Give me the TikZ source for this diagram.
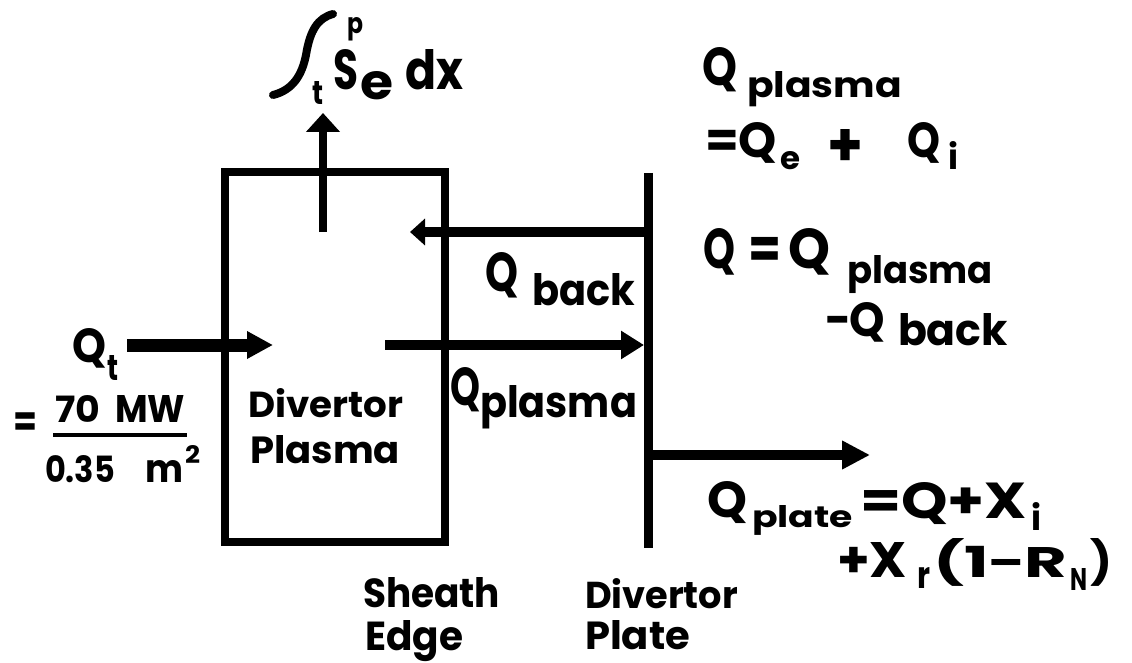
\documentclass[tikz,border=0pt]{standalone}
\usepackage{fontspec}
\setmainfont{Poppins}
\usepackage{graphicx}
\usetikzlibrary{arrows.meta}
\newcommand{\fb}[3]{\resizebox{#1pt}{#2pt}{#3}}
\begin{document}
\begin{tikzpicture}[x=1pt,y=-1pt,
  lbl/.style={inner sep=0pt, outer sep=0pt, anchor=base west, font=\bfseries\fontsize{40}{48}\selectfont},
  wall/.style={line width=8pt},
  flow/.style={line width=10pt}
]
\path[use as bounding box, fill=white] (0,0) rectangle (1132,663);

% box and plate
\node[draw, wall, minimum width=220pt, minimum height=370pt, inner sep=0pt] (box) at (335,357) {};
\coordinate (plT) at (648,173);
\coordinate (plB) at (648,548);
\draw[line width=9pt] (plT) -- (plB);

% arrows
\coordinate (upS) at (323,232); \coordinate (upE) at (323,113);
\draw[wall, -{Triangle[length=19pt,width=33pt]}] (upS) -- (upE);
\coordinate (qtS) at (127,345); \coordinate (qtE) at (273,345);
\draw[line width=13pt, -{Triangle[length=26pt,width=26pt]}] (qtS) -- (qtE);
\coordinate (bkS) at (648,232); \coordinate (bkE) at (410,232);
\draw[flow, -{Triangle[length=15pt,width=26pt]}] (bkS) -- (bkE);
\coordinate (fwS) at (385,345); \coordinate (fwE) at (644,345);
\draw[flow, -{Triangle[length=23pt,width=27pt]}] (fwS) -- (fwE);
\coordinate (poS) at (648,455); \coordinate (poE) at (870,455);
\draw[flow, -{Triangle[length=28pt,width=27pt]}] (poS) -- (poE);

% integral
\draw[line width=8pt, line cap=round] (273,95) .. controls (293,90) and (302,75) .. (306,55) .. controls (310,30) and (318,18) .. (333,14);
\node[lbl] (ip) at (347,34) {\fb{16}{16}{p}};
\node[lbl] (it) at (312,105) {\fb{11}{23}{t}};
\node[lbl] (iS) at (333,90) {\fb{25}{40}{S}};
\node[lbl] (ie) at (360,100) {\fb{33}{28}{e}};
\node[lbl] (idx) at (405,90) {\fb{58}{40}{dx}};

% Q plasma = Qe + Qi
\node[lbl] (a1) at (702,86) {\fb{35}{38}{Q}};
\node[lbl] (a2) at (747,98) {\fb{155}{26}{plasma}};
\node[lbl] (a3) at (705,158) {\fb{72}{35}{=Q}};
\node[lbl] (a4) at (780,170) {\fb{20}{18}{e}};
\node[lbl] (a5) at (827,167) {\fb{36}{37}{+}};
\node[lbl] (a6) at (907,158) {\fb{33}{35}{Q}};
\node[lbl] (a7) at (948,170) {\fb{10}{28}{i}};

% Q = Qplasma - Qback
\node[lbl] (b1) at (703,268) {\fb{32}{40}{Q}};
\node[lbl] (b2) at (748,268) {\fb{33}{40}{\vphantom{Q}=}};
\node[lbl] (b3) at (788,268) {\fb{42}{40}{Q}};
\node[lbl] (b4) at (847,283) {\fb{146}{28}{plasma}};
\node[lbl] (b5) at (825,336) {\fb{60}{34}{−Q}};
\node[lbl] (b6) at (898,345) {\fb{110}{32}{back}};

% Q back label
\node[lbl] (c1) at (485,291) {\fb{33}{39}{Q}};
\node[lbl] (c2) at (532,305) {\fb{103}{32}{back}};

% Q plasma label
\node[lbl] (d1) at (450,405) {\fb{30}{38}{Q}};
\node[lbl] (d2) at (480,417) {\fb{157}{32}{plasma}};

% Divertor Plasma
\node[lbl] (e1) at (248,417) {\fb{155}{29}{Divertor}};
\node[lbl] (e2) at (250,463) {\fb{150}{28}{Plasma}};

% Qt
\node[lbl] (f1) at (72,362) {\fb{34}{34}{Q}};
\node[lbl] (f2) at (107,380) {\fb{11}{25}{t}};
\node[lbl] (f3) at (13,436) {\fb{24}{32}{\vphantom{0}=}};
\node[lbl] (f4) at (55,422) {\fb{45}{27}{70}};
\node[lbl] (f5) at (115,422) {\fb{70}{27}{MW}};
\coordinate (frL) at (53,435); \coordinate (frR) at (187,435);
\draw[line width=4pt] (frL) -- (frR);
\node[lbl] (f6) at (45,482) {\fb{70}{27}{0.35}};
\node[lbl] (f7) at (145,482) {\fb{38}{22}{m}};
\node[lbl] (f8) at (185,463) {\fb{15}{18}{2}};

% Sheath Edge, Divertor Plate
\node[lbl] (g1) at (363,607) {\fb{137}{30}{Sheath}};
\node[lbl] (g2) at (365,650) {\fb{98}{30}{Edge}};
\node[lbl] (g3) at (585,608) {\fb{153}{30}{Divertor}};
\node[lbl] (g4) at (585,649) {\fb{105}{29}{Plate}};

% Q plate
\node[lbl] (h1) at (707,517) {\fb{40}{36}{Q}};
\node[lbl] (h2) at (752,527) {\fb{101}{22}{plate}};
\node[lbl] (h3) at (860,518) {\fb{167}{36}{=Q+X}};
\node[lbl] (h4) at (1031,530) {\fb{10}{28}{i}};
\node[lbl] (h5) at (837,577) {\fb{70}{35}{+X}};
\node[lbl] (h6) at (917,588) {\fb{13}{21}{r}};
\node[lbl] (h7) at (933,577) {\fb{134}{39}{(1−R}};
\node[lbl] (h8) at (1070,590) {\fb{17}{22}{N}};
\node[lbl] (h9) at (1090,577) {\fb{22}{39}{)}};
\end{tikzpicture}
\end{document}
